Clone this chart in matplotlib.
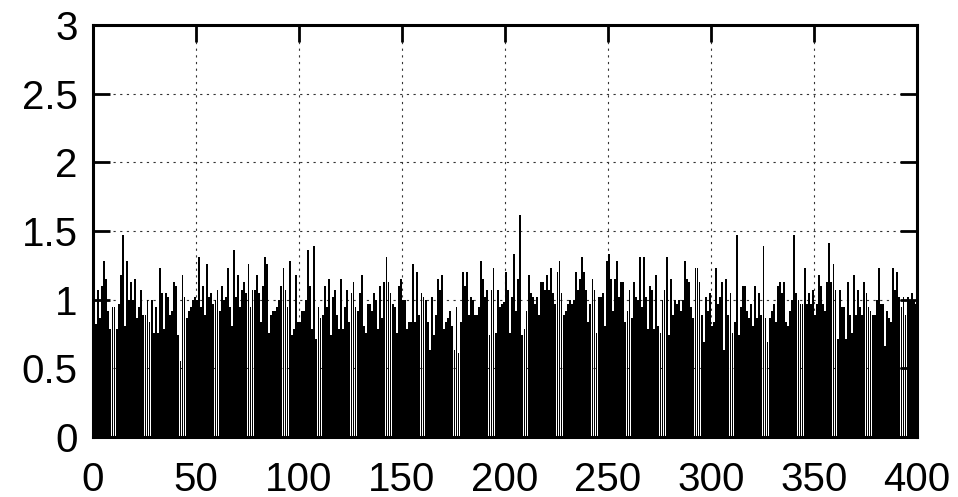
import matplotlib
matplotlib.use("Agg")
import matplotlib.pyplot as plt
import numpy as np

plt.rcParams['font.family'] = ['Liberation Sans', 'DejaVu Sans']

seg1 = [0.945, 0.82, 1.07, 0.87, 1.10, 1.28, 1.15, 0.92, 0.79, 0.945, 0.945, 0.79, 0.97, 1.18, 1.47,
        0.81, 1.28, 1.0, 1.13, 1.0, 1.15, 0.87, 0.945, 1.07, 0.89, 0.89, 1.0, 0.84, 1.0, 0.76, 0.945, 0.76, 1.23]
seg2 = [1.05, 0.79, 1.05, 1.02, 0.89, 0.92, 1.13, 1.10, 0.74, 0.55, 1.18, 1.02, 0.87, 0.92, 0.945, 1.0,
        1.02, 1.0, 1.31, 0.945, 1.10, 0.89, 1.26, 1.02, 1.05, 0.97, 1.0, 1.07, 0.92, 1.10, 1.0, 1.02, 1.23, 0.945]
seg3 = [0.81, 1.36, 1.02, 1.18, 0.945, 1.07, 1.13, 1.05, 1.26, 0.945, 1.07, 1.07, 1.18, 1.05, 0.84, 1.10,
        1.31, 1.26, 0.76, 0.89, 0.92, 0.92, 0.945, 1.0, 1.10, 1.23, 1.07, 0.945, 1.28, 0.74, 0.79, 1.18, 0.84, 0.84]
seg4 = [0.92, 0.92, 1.0, 1.36, 1.10, 0.79, 1.39, 0.71, 0.945, 0.87, 0.89, 1.10, 0.945, 1.15, 0.74, 1.02,
        1.07, 0.89, 0.79, 1.15, 0.79, 0.945, 1.07, 0.84, 1.05, 1.13, 0.945, 0.92, 1.05, 1.18, 0.81, 0.76, 0.97, 0.97]
seg5 = [0.92, 1.05, 1.0, 0.79, 1.10, 0.87, 1.13, 1.31, 1.13, 1.05, 0.97, 0.945, 0.76, 1.10, 1.15, 1.0,
        1.0, 0.79, 0.84, 0.84, 1.26, 0.84, 1.20, 0.89, 1.05, 1.02, 1.0, 0.84, 0.63, 1.02, 0.74, 0.89, 1.15, 1.07]
seg6 = [1.18, 0.79, 0.84, 0.87, 0.92, 0.81, 0.63, 0.945, 0.61, 0.84, 1.20, 1.10, 1.20, 0.89, 1.02, 1.0,
        0.89, 0.89, 0.945, 1.28, 1.15, 1.02, 1.07, 0.74, 1.07, 1.23, 0.76, 1.07, 0.945, 0.97, 0.98, 1.20, 1.07, 0.76]
seg7 = [1.02, 1.33, 0.92, 1.15, 1.62, 0.74, 0.79, 0.92, 1.18, 1.05, 1.02, 0.97, 1.02, 0.89, 1.13, 1.13,
        1.07, 1.18, 1.07, 1.23, 1.05, 0.97, 1.20, 1.28, 1.05, 0.89, 0.92, 0.97, 1.0, 0.97, 1.0, 1.20, 1.07, 1.15]
seg8 = [1.31, 1.20, 1.07, 0.84, 0.97, 1.15, 1.07, 0.76, 1.02, 1.02, 1.05, 0.81, 1.28, 1.33, 1.15, 0.92,
        1.15, 1.28, 1.02, 1.13, 1.13, 0.84, 0.92, 1.07, 0.87, 1.13, 1.02, 1.0, 1.31, 0.945, 1.31, 1.02, 0.79, 1.10]
seg9 = [1.07, 0.79, 1.18, 0.81, 0.76, 1.0, 1.07, 1.31, 0.74, 1.15, 0.89, 1.0, 0.97, 1.0, 0.92, 1.0,
        1.28, 1.15, 1.13, 0.945, 0.87, 1.23, 1.23, 1.13, 0.89, 0.69, 1.02, 0.92, 1.05, 0.81, 0.84, 1.23, 0.97, 1.02]
seg10 = [1.13, 0.63, 1.15, 0.89, 1.05, 0.76, 0.84, 1.47, 0.74, 0.945, 1.10, 1.10, 0.92, 0.87, 0.97, 0.81,
         1.10, 0.87, 1.05, 0.89, 1.39, 0.87, 0.69, 0.87, 0.92, 0.97, 0.84, 1.10, 1.13, 1.05, 1.13, 0.84, 0.81, 0.92]
seg11 = [1.0, 1.47, 1.05, 1.0, 0.97, 0.97, 1.23, 0.97, 1.05, 0.97, 1.07, 0.89, 0.97, 1.18, 1.10, 0.97,
         0.92, 1.13, 1.41, 1.13, 1.26, 1.07, 0.71, 1.07, 0.945, 0.945, 0.71, 1.13, 0.89, 0.76, 1.18, 0.89, 1.07, 0.945]
seg12 = [0.89, 1.13, 1.05, 0.945, 0.92, 0.89, 0.89, 1.0, 1.23, 0.97, 0.97, 0.66, 0.92, 0.87, 0.84, 1.23,
         1.07, 1.20, 1.02, 0.945, 1.02, 0.89, 1.02, 1.0, 1.05, 1.0, 0.97]

values = seg1 + seg2 + seg3 + seg4 + seg5 + seg6 + seg7 + seg8 + seg9 + seg10 + seg11 + seg12
xticks = [0, 50, 100, 150, 200, 250, 300, 350, 400]
yticks = [0, 0.5, 1, 1.5, 2, 2.5, 3]
yticklabels = ['0', '0.5', '1', '1.5', '2', '2.5', '3']

fig = plt.figure(figsize=(9.58, 4.97), dpi=100)
ax = fig.add_axes([93/958, 1-437/497, (917-93)/958, (437-25)/497])

n = len(values)
x = np.arange(n) * (400.0 / n)
ax.bar(x, values, width=0.9 * 400.0 / n, align='edge', color='black', edgecolor='none', zorder=2)

ax.set_xlim(0, 400)
ax.set_ylim(0, 3)
ax.set_xticks(xticks)
ax.set_yticks(yticks)
ax.set_yticklabels(yticklabels)
ax.set_axisbelow(True)
ax.grid(True, color='#333333', linestyle=(0, (2, 4)), linewidth=0.8, zorder=1)
ax.tick_params(direction='in', length=12, width=2.0, labelsize=29, top=True, right=True)
ax.tick_params(axis='x', pad=17)
ax.tick_params(axis='y', pad=11)
for s in ax.spines.values():
    s.set_linewidth(2.2)
    s.set_zorder(3)

fig.savefig('out.png', dpi=100)
